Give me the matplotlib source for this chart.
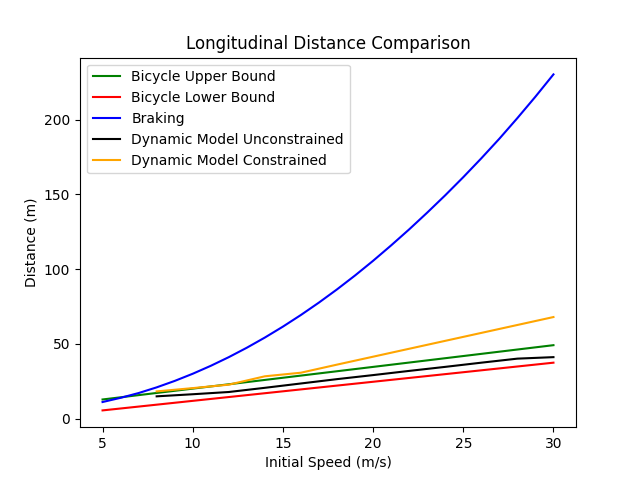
import matplotlib
matplotlib.use("Agg")
import matplotlib.pyplot as plt

# Bicycle model bounds (straight lines)
bike_speeds = [5, 30]
bike_upper = [12.9, 49.2]
bike_lower = [5.6, 37.5]

# Braking distance
brake_speeds = list(range(5, 31))
brake_dist = [11.2, 14.0, 17.2, 21.0, 25.3, 30.1, 35.4, 41.2, 47.5, 54.3,
              61.6, 69.4, 77.7, 86.5, 95.8, 105.6, 115.9, 126.6, 137.8, 149.4,
              161.5, 174.1, 187.2, 201.0, 215.3, 230.2]

# Dynamic model
dyn_speeds = [8, 10, 12, 14, 16, 18, 20, 22, 24, 26, 28, 30]
dyn_unconstrained = [15.0, 16.4, 17.9, 20.7, 23.6, 26.5, 29.2, 32.0, 34.7, 37.5, 40.2, 41.2]
dyn_constrained = [18.3, 20.5, 22.8, 28.4, 30.8, 36.2, 41.5, 46.8, 52.1, 57.4, 62.7, 68.0]

fig, ax = plt.subplots(figsize=(6.4, 4.8), dpi=100)
ax.plot(bike_speeds, bike_upper, color="green", label="Bicycle Upper Bound")
ax.plot(bike_speeds, bike_lower, color="red", label="Bicycle Lower Bound")
ax.plot(brake_speeds, brake_dist, color="blue", label="Braking")
ax.plot(dyn_speeds, dyn_unconstrained, color="black", label="Dynamic Model Unconstrained")
ax.plot(dyn_speeds, dyn_constrained, color="orange", label="Dynamic Model Constrained")

ax.set_title("Longitudinal Distance Comparison")
ax.set_xlabel("Initial Speed (m/s)")
ax.set_ylabel("Distance (m)")
ax.legend(loc="upper left")

fig.savefig("out.png", dpi=100)
